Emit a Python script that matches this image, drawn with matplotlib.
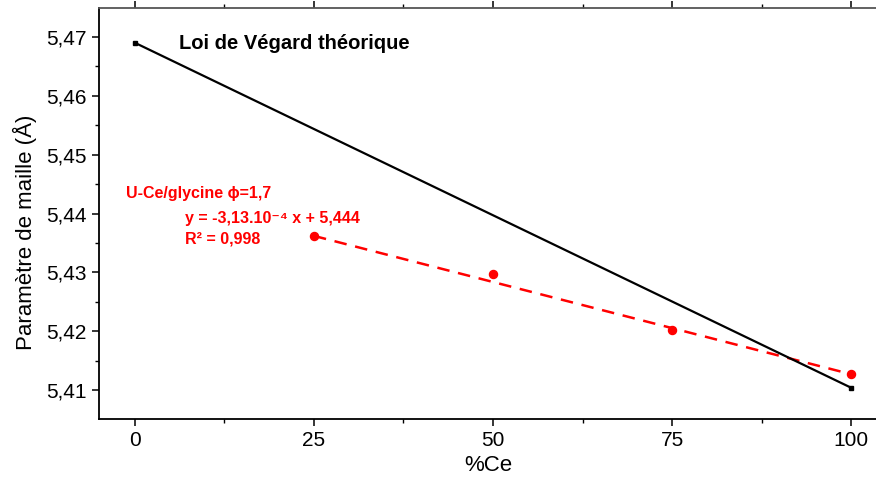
import matplotlib
matplotlib.use("Agg")
import matplotlib.pyplot as plt
from matplotlib.ticker import MultipleLocator, FuncFormatter

plt.rcParams['font.family'] = ['Liberation Sans', 'DejaVu Sans']

# Data
vegard_x = [0, 100]
vegard_y = [5.469, 5.4104]
exp_x = [25, 50, 75, 100]
exp_y = [5.4361, 5.4297, 5.4202, 5.4128]
exp_err = [0.0001, 0.0003, 0.0001, 0.0002]
fit_x = [25, 100]
fit_y = [5.4362, 5.4127]
x_ticks = [0, 25, 50, 75, 100]
y_ticks = [5.41, 5.42, 5.43, 5.44, 5.45, 5.46, 5.47]

fig = plt.figure(figsize=(8.76, 4.79), dpi=100)
ax = fig.add_axes([99/876, 1 - 419/479, 1 - 99/876 + 0.002, (419 - 8)/479])

ax.plot(vegard_x, vegard_y, color='black', lw=1.6, marker='s', ms=3.5, zorder=3)
ax.plot(fit_x, fit_y, color='#ff0000', lw=1.8, ls=(0, (5, 3.5)), zorder=2)
ax.errorbar(exp_x, exp_y, yerr=exp_err, fmt='o', color='#ff0000', ms=5.8,
            elinewidth=1.5, capsize=0, zorder=4)

ax.set_xlim(-5, 103.7)
ax.set_ylim(5.4051, 5.4749)
ax.set_xticks(x_ticks)
ax.set_yticks(y_ticks)
ax.xaxis.set_minor_locator(MultipleLocator(12.5))
ax.yaxis.set_minor_locator(MultipleLocator(0.005))
ax.yaxis.set_major_formatter(FuncFormatter(lambda v, p: f"{v:.2f}".replace('.', ',')))
ax.xaxis.set_major_formatter(FuncFormatter(lambda v, p: f"{v:.0f}"))

ax.spines['right'].set_visible(False)
ax.spines['top'].set_color('#555555')
for s in ['left', 'bottom', 'top']:
    ax.spines[s].set_linewidth(1.3)
ax.tick_params(axis='both', which='major', direction='out', length=5, width=1.1,
               labelsize=15, pad=4)
ax.tick_params(axis='both', which='minor', direction='out', length=3, width=1.0)
ax.tick_params(axis='x', which='both', top=True, labeltop=False)

ax.set_xlabel('%Ce', fontsize=16, labelpad=3)
ax.set_ylabel('Paramètre de maille (Å)', fontsize=16)
ax.yaxis.set_label_coords(-0.079, 0.455)

ax.text(6.2, 5.4689, 'Loi de Végard théorique', fontsize=14.5, fontweight='bold',
        color='black', va='center', ha='left')
ax.text(-1.3, 5.4434, 'U-Ce/glycine ϕ=1,7', fontsize=11.5, fontweight='bold',
        color='#ff0000', va='center', ha='left')
ax.text(7.0, 5.4391, 'y = -3,13.10⁻⁴ x + 5,444', fontsize=11.5, fontweight='bold',
        color='#ff0000', va='center', ha='left')
ax.text(7.0, 5.4357, 'R² = 0,998', fontsize=11.5, fontweight='bold',
        color='#ff0000', va='center', ha='left')

fig.savefig('out.png', dpi=100)
